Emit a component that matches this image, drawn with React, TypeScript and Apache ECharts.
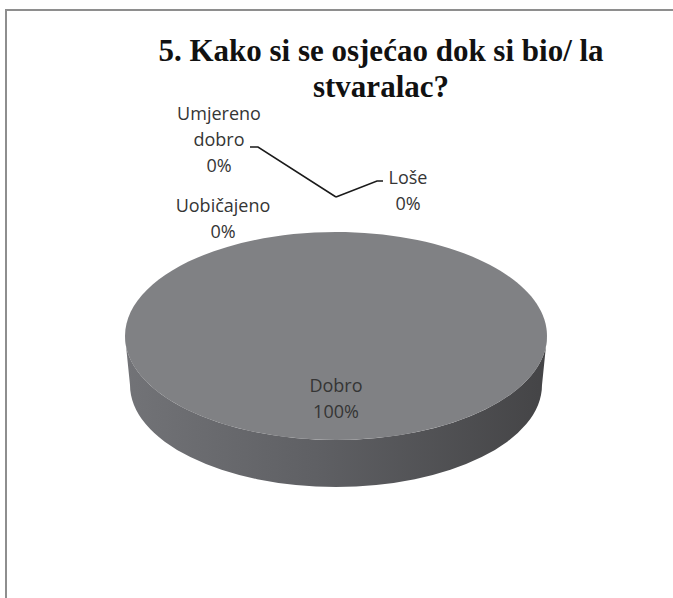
import React, { useEffect, useRef } from "react";
import * as echarts from "echarts";

const categories = ["Dobro", "Loše", "Umjereno dobro", "Uobičajeno"];
const values = [100, 0, 0, 0];
const titleLines = ["5. Kako si se osjećao dok si bio/ la", "stvaralac?"];

// layout (not data)
const CX = 336;
const CY = 336;
const RX = 211;
const RY = 104;
const BX = 206; // bottom ellipse (perspective)
const BY = 102;
const BCY = 385;
const labelPos = [
  { x: 336, y: 398 },
  { x: 408, y: 190 },
  { x: 219, y: 139 },
  { x: 223, y: 218 },
];
const leaders: Record<number, number[][]> = {
  1: [[383, 181], [377, 181], [336, 197]],
  2: [[250, 147], [258, 147], [336, 197]],
};

const pt = (a: number) => [CX + RX * Math.sin(a), CY - RY * Math.cos(a)];
const bpt = (a: number) => [CX + BX * Math.sin(a), BCY - BY * Math.cos(a)];

export default function App() {
  const ref = useRef<HTMLDivElement>(null);
  useEffect(() => {
    if (!ref.current) return;
    const chart = echarts.init(ref.current, undefined, { renderer: "svg" });
    const total = values.reduce((s, v) => s + v, 0);
    const starts: number[] = [];
    let acc = 0;
    values.forEach((v) => {
      starts.push(acc);
      acc += v;
    });

    const renderItem = (params: any, api: any) => {
      const i = params.dataIndex;
      const v = api.value(0);
      const a0 = (starts[i] / total) * Math.PI * 2;
      const a1 = a0 + (v / total) * Math.PI * 2;
      const children: any[] = [];
      const span = a1 - a0;
      if (span > 0) {
        // side (front visible part)
        const s = Math.max(a0, Math.PI / 2);
        const e = Math.min(a1, (Math.PI * 3) / 2);
        if (e > s) {
          const p0 = pt(s);
          const p1 = pt(e);
          const q1 = bpt(e);
          const q0 = bpt(s);
          const large = e - s > Math.PI ? 1 : 0;
          const d =
            `M${p0[0]},${p0[1]} A${RX},${RY} 0 ${large} 1 ${p1[0]},${p1[1]} ` +
            `L${q1[0]},${q1[1]} A${BX},${BY} 0 ${large} 0 ${q0[0]},${q0[1]} Z`;
          children.push({
            type: "path",
            shape: { pathData: d },
            style: {
              fill: new echarts.graphic.LinearGradient(0, 0, 1, 0, [
                { offset: 0, color: "#727377" },
                { offset: 0.45, color: "#5f6064" },
                { offset: 1, color: "#444446" },
              ]),
              stroke: null,
            },
          });
        }
        // top
        if (span >= Math.PI * 2 - 1e-6) {
          children.push({
            type: "ellipse",
            shape: { cx: CX, cy: CY, rx: RX, ry: RY },
            style: { fill: "#808184", stroke: null },
          });
        } else {
          const p0 = pt(a0);
          const p1 = pt(a1);
          const large = span > Math.PI ? 1 : 0;
          children.push({
            type: "path",
            shape: {
              pathData: `M${CX},${CY} L${p0[0]},${p0[1]} A${RX},${RY} 0 ${large} 1 ${p1[0]},${p1[1]} Z`,
            },
            style: { fill: "#808184", stroke: "#ffffff", lineWidth: 1 },
          });
        }
      }
      const lp = labelPos[i];
      const pct = Math.round((v / total) * 100) + "%";
      const name = categories[i].split(" ").join("\n");
      children.push({
        type: "text",
        style: {
          text: name + "\n" + pct,
          x: lp.x,
          y: lp.y,
          align: "center",
          verticalAlign: "middle",
          fontFamily: "Open Sans",
          fontSize: 18,
          lineHeight: 26,
          fill: "#353535",
        },
        z2: 10,
      });
      if (leaders[i]) {
        children.push({
          type: "polyline",
          shape: { points: leaders[i] },
          style: { stroke: "#1a1a1a", lineWidth: 1.5, fill: null },
        });
      }
      return { type: "group", children };
    };

    chart.setOption({
      animation: false,
      backgroundColor: "#ffffff",
      graphic: [
        {
          type: "rect",
          shape: { x: 6, y: 10, width: 720, height: 700 },
          style: { fill: null, stroke: "#8e8e8e", lineWidth: 2 },
          silent: true,
        },
        {
          type: "text",
          x: 381,
          y: 68,
          style: {
            text: titleLines.join("\n"),
            align: "center",
            verticalAlign: "middle",
            fontFamily: "Liberation Serif",
            fontWeight: "bold",
            fontSize: 31,
            lineHeight: 36,
            fill: "#111111",
          },
        },
      ],
      series: [
        {
          type: "custom",
          coordinateSystem: "none",
          renderItem,
          data: values.map((v, i) => ({ name: categories[i], value: [v] })),
        },
      ],
    });
    return () => chart.dispose();
  }, []);
  return (
    <div
      ref={ref}
      style={{ position: "absolute", left: 0, top: 0, width: 673, height: 598, background: "#fff" }}
    />
  );
}
